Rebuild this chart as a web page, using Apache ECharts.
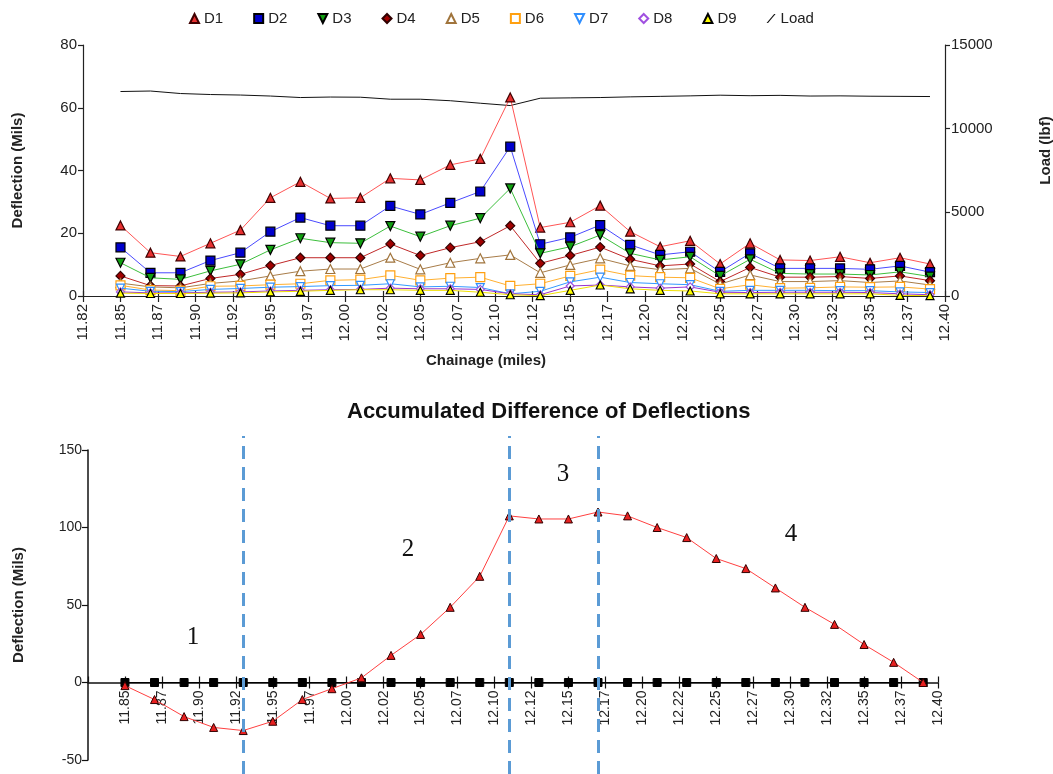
<!DOCTYPE html>
<html>
<head>
<meta charset="utf-8">
<script src="https://cdn.jsdelivr.net/npm/echarts@6/dist/echarts.min.js"></script>
<style>
html,body{margin:0;padding:0;background:#fff;}
#c{width:1053px;height:774px;}
</style>
</head>
<body>
<div id="c"></div>
<script>
// ---------- data ----------
const chainage = [11.85, 11.87, 11.89, 11.91, 11.93, 11.95, 11.97, 11.99, 12.01, 12.03, 12.05, 12.07, 12.09, 12.11,
                  12.13, 12.15, 12.17, 12.19, 12.21, 12.23, 12.25, 12.27, 12.29, 12.31, 12.33, 12.35, 12.37, 12.39];
const d1 = [22.5, 13.8, 12.6, 16.8, 21.0, 31.3, 36.4, 31.1, 31.3, 37.5, 37.0, 41.8, 43.7, 63.3, 21.8, 23.5, 28.8, 20.5, 15.7, 17.6, 10.2, 16.8, 11.5, 11.3, 12.5, 10.6, 12.2, 10.2];
const d2 = [15.5, 7.4, 7.4, 11.3, 13.8, 20.5, 25.0, 22.4, 22.4, 28.7, 26.0, 29.7, 33.3, 47.6, 16.5, 18.7, 22.6, 16.3, 13.1, 14.1, 7.7, 13.6, 8.8, 8.8, 8.8, 8.5, 9.6, 7.6];
const d3 = [10.6, 5.8, 5.3, 8.0, 10.1, 14.7, 18.4, 17.0, 16.8, 22.3, 18.9, 22.4, 24.8, 34.3, 13.6, 15.7, 19.4, 13.6, 11.5, 12.5, 6.4, 11.7, 7.2, 7.0, 7.0, 6.7, 7.7, 6.2];
const d4 = [6.4, 3.3, 3.2, 5.6, 6.9, 9.7, 12.2, 12.2, 12.2, 16.6, 12.9, 15.4, 17.3, 22.4, 10.4, 12.9, 15.6, 11.7, 9.6, 10.2, 4.6, 9.1, 6.0, 6.0, 6.2, 5.6, 6.4, 4.9];
const d5 = [4.1, 2.9, 2.6, 4.0, 4.8, 6.4, 7.9, 8.6, 8.6, 12.2, 8.5, 10.6, 12.0, 13.1, 7.4, 9.9, 12.0, 9.6, 8.4, 8.8, 3.8, 6.7, 4.6, 4.6, 4.9, 4.3, 4.8, 3.5];
const d6 = [3.4, 1.9, 1.7, 3.1, 3.2, 3.6, 3.9, 5.0, 5.2, 6.6, 5.0, 5.7, 6.0, 3.2, 3.9, 6.4, 8.4, 6.5, 6.0, 5.8, 2.3, 3.6, 2.5, 2.6, 2.9, 2.8, 2.9, 2.2];
const d7 = [2.5, 1.5, 1.4, 2.1, 2.4, 2.8, 3.0, 3.3, 3.4, 3.9, 2.9, 3.1, 2.7, 0.7, 1.5, 4.5, 6.0, 4.3, 3.9, 3.6, 1.5, 1.8, 1.8, 1.8, 1.7, 1.7, 1.3, 1.1];
const d8 = [1.3, 1.0, 1.0, 1.2, 1.3, 1.6, 1.8, 2.0, 2.1, 2.5, 2.3, 2.3, 2.1, 0.7, 0.4, 3.2, 3.5, 2.9, 2.5, 2.9, 1.2, 1.1, 1.2, 1.2, 1.2, 1.1, 0.7, 0.4];
const d9 = [0.9, 0.8, 0.8, 0.9, 1.0, 1.3, 1.5, 1.8, 2.0, 2.0, 1.8, 1.8, 1.2, 0.4, 0.1, 1.8, 3.5, 2.3, 1.8, 1.6, 0.7, 0.7, 0.7, 0.7, 0.7, 0.7, 0.2, 0.1];
const load = [12220, 12250, 12100, 12040, 12010, 11950, 11860, 11890, 11880, 11760, 11760, 11670, 11520, 11380,
              11820, 11840, 11860, 11900, 11930, 11960, 12000, 11970, 11990, 11950, 11960, 11940, 11930, 11920];
const accDiff = [-2, -11, -22, -29, -31, -25, -11, -4, 3, 17.5, 31, 48.5, 68.5, 107.5,
                 105.5, 105.5, 110, 107.5, 100, 93.5, 80, 73.5, 61, 48.5, 37.5, 24.5, 13, 0];
const baseline = [0, 0, 0, 0, 0, 0, 0, 0, 0, 0, 0, 0, 0, 0, 0, 0, 0, 0, 0, 0, 0, 0, 0, 0, 0, 0, 0, 0];
const boundaries = [11.93, 12.11, 12.17];
const regionLabels = ['1', '2', '3', '4'];
const seriesNames = ['D1', 'D2', 'D3', 'D4', 'D5', 'D6', 'D7', 'D8', 'D9', 'Load'];
const topTitle = 'Accumulated Difference of Deflections';

// ---------- helpers ----------
const FONT = 'Liberation Sans, Arial, sans-serif';
const pair = arr => arr.map((v, i) => [chainage[i], v]);
const fmtX = v => (Math.floor(v * 100 + 1e-6) / 100).toFixed(2);
const fmtY = v => String(v);
const DOWN = 'path://M0,0L10,0L5,10Z';

const styles = [
  {sym: 'triangle', rot: 0, fill: '#e83030', border: '#400000', line: '#ff5555', size: 9},
  {sym: 'rect', rot: 0, fill: '#0000cc', border: '#000000', line: '#4a4aff', size: 9},
  {sym: 'triangle', rot: 180, fill: '#10a010', border: '#000000', line: '#3cbf3c', size: 9},
  {sym: 'diamond', rot: 0, fill: '#a00000', border: '#300000', line: '#c02828', size: 9},
  {sym: 'triangle', rot: 0, fill: '#ffffff', border: '#a0743c', line: '#a87c48', size: 9},
  {sym: 'rect', rot: 0, fill: '#ffffff', border: '#ffa010', line: '#ffb030', size: 9},
  {sym: 'triangle', rot: 180, fill: '#ffffff', border: '#2f8fff', line: '#3399ff', size: 8},
  {sym: 'diamond', rot: 0, fill: '#ffffff', border: '#a050e0', line: '#9933cc', size: 8},
  {sym: 'triangle', rot: 0, fill: '#ffff00', border: '#000000', line: '#f0e000', size: 8}
];
const dataSets = [d1, d2, d3, d4, d5, d6, d7, d8, d9];
const legendIcons = ['triangle', 'rect', DOWN, 'diamond', 'triangle', 'rect', DOWN, 'diamond', 'triangle',
                     'path://M0,10L1.6,10L10,0L8.4,0Z'];

const series = dataSets.map((arr, k) => ({
  name: seriesNames[k], type: 'line', xAxisIndex: 0, yAxisIndex: 0,
  data: pair(arr), symbol: styles[k].sym, symbolRotate: styles[k].rot, symbolSize: styles[k].size,
  lineStyle: {color: styles[k].line, width: 1},
  itemStyle: {color: styles[k].fill, borderColor: styles[k].border, borderWidth: 1.2},
  emphasis: {disabled: true}, animation: false, z: 3 + k
}));
series.push({
  name: 'Load', type: 'line', xAxisIndex: 0, yAxisIndex: 1, data: pair(load), symbol: 'none',
  lineStyle: {color: '#111', width: 1}, itemStyle: {color: '#111'}, animation: false, z: 2
});
// bottom chart
series.push({
  name: 'base', type: 'line', xAxisIndex: 2, yAxisIndex: 2, data: pair(baseline),
  symbol: 'rect', symbolSize: 8, lineStyle: {color: '#000', width: 1},
  itemStyle: {color: '#000', borderColor: '#000'}, animation: false, z: 3
});
series.push({
  name: 'acc', type: 'line', xAxisIndex: 2, yAxisIndex: 2, data: pair(accDiff),
  symbol: 'triangle', symbolSize: 8, lineStyle: {color: '#ff4040', width: 1},
  itemStyle: {color: '#e82020', borderColor: '#300000', borderWidth: 1}, animation: false, z: 4
});
series.push({
  name: 'bounds', type: 'line', xAxisIndex: 4, yAxisIndex: 3, data: [], symbol: 'none', animation: false,
  markLine: {
    silent: true, symbol: ['none', 'none'], label: {show: false},
    lineStyle: {color: '#5b9bd5', width: 3, type: [13, 8]},
    data: boundaries.map(b => ({xAxis: b}))
  }, z: 6
});

// bottom grid geometry and the offset that puts its x axis on value 0
const BOT = {top: 450, height: 310, min: -50, max: 150};
const zeroOffset = -BOT.height * (0 - BOT.min) / (BOT.max - BOT.min);

const axisCommon = {
  axisLine: {lineStyle: {color: '#222', width: 1.2}},
  axisTick: {lineStyle: {color: '#222', width: 1.2}},
  splitLine: {show: false}
};

const option = {
  backgroundColor: '#ffffff',
  animation: false,
  textStyle: {fontFamily: FONT},
  title: {
    text: topTitle, left: 347, top: 401, padding: 0,
    textStyle: {fontSize: 22, fontWeight: 'bold', color: '#111', fontFamily: FONT}
  },
  legend: {
    data: seriesNames.map((n, i) => ({name: n, icon: legendIcons[i]})),
    left: 184, top: 6, itemWidth: 9, itemHeight: 9, itemGap: 30,
    textStyle: {fontSize: 15, color: '#222', fontFamily: FONT},
    selectedMode: false
  },
  grid: [
    {left: 83, right: 108, top: 45, height: 251, containLabel: false, outerBoundsMode: 'none'},
    {left: 88, right: 115, top: BOT.top, height: BOT.height, containLabel: false, outerBoundsMode: 'none'},
    {left: 88, right: 115, top: 436, height: 338, containLabel: false, outerBoundsMode: 'none'}
  ],
  xAxis: [
    Object.assign({}, axisCommon, {
      gridIndex: 0, type: 'value', min: 11.825, max: 12.40, interval: 0.025, position: 'bottom',
      axisTick: {length: 6, lineStyle: {color: '#222', width: 1.2}},
      axisLabel: {rotate: 90, formatter: fmtX, fontSize: 15, color: '#222', margin: 8, fontFamily: FONT},
      name: 'Chainage (miles)', nameLocation: 'middle', nameGap: 57,
      nameTextStyle: {fontSize: 15, fontWeight: 'bold', color: '#222', padding: [0, 56, 0, 0], fontFamily: FONT}
    }),
    {
      gridIndex: 0, type: 'value', min: 11.825, max: 12.40, interval: 0.025, position: 'bottom',
      axisLine: {show: false, onZero: false}, axisLabel: {show: false}, splitLine: {show: false},
      axisTick: {inside: true, length: 5, lineStyle: {color: '#222', width: 1.2}}
    },
    Object.assign({}, axisCommon, {
      gridIndex: 1, type: 'value', min: 11.825, max: 12.40, interval: 0.025, position: 'bottom',
      offset: zeroOffset,
      axisLine: {onZero: false, lineStyle: {color: '#111', width: 1.5}},
      axisTick: {length: 6, lineStyle: {color: '#111', width: 1.2}},
      axisLabel: {rotate: 90, formatter: fmtX, fontSize: 14, color: '#222', margin: 8, showMinLabel: false, fontFamily: FONT}
    }),
    {
      gridIndex: 1, type: 'value', min: 11.825, max: 12.40, interval: 0.025, position: 'bottom',
      offset: zeroOffset,
      axisLine: {show: false, onZero: false}, axisLabel: {show: false}, splitLine: {show: false},
      axisTick: {inside: true, length: 6, lineStyle: {color: '#111', width: 1.2}}
    },
    {gridIndex: 2, type: 'value', min: 11.825, max: 12.40, show: false}
  ],
  yAxis: [
    Object.assign({}, axisCommon, {
      gridIndex: 0, type: 'value', min: 0, max: 80, interval: 20, position: 'left',
      axisTick: {length: 5, lineStyle: {color: '#222', width: 1.2}},
      axisLabel: {fontSize: 15, color: '#222', margin: 6, formatter: fmtY, fontFamily: FONT},
      name: 'Deflection (Mils)', nameLocation: 'middle', nameGap: 58, nameRotate: 90,
      nameTextStyle: {fontSize: 15, fontWeight: 'bold', color: '#222', fontFamily: FONT}
    }),
    Object.assign({}, axisCommon, {
      gridIndex: 0, type: 'value', min: 0, max: 15000, interval: 5000, position: 'right',
      axisTick: {length: 5, lineStyle: {color: '#222', width: 1.2}},
      axisLabel: {fontSize: 15, color: '#222', margin: 6, formatter: fmtY, fontFamily: FONT},
      name: 'Load (lbf)', nameLocation: 'middle', nameGap: 93, nameRotate: 90,
      nameTextStyle: {fontSize: 15, fontWeight: 'bold', color: '#222', padding: [0, 0, 0, 40], fontFamily: FONT}
    }),
    Object.assign({}, axisCommon, {
      gridIndex: 1, type: 'value', min: BOT.min, max: BOT.max, interval: 50,
      axisLine: {onZero: false, lineStyle: {color: '#111', width: 1.5}},
      axisTick: {length: 6, lineStyle: {color: '#111', width: 1.2}},
      axisLabel: {fontSize: 14, color: '#222', margin: 6, formatter: fmtY, fontFamily: FONT},
      name: 'Deflection (Mils)', nameLocation: 'middle', nameGap: 62, nameRotate: 90,
      nameTextStyle: {fontSize: 15, fontWeight: 'bold', color: '#222', fontFamily: FONT}
    }),
    {gridIndex: 2, type: 'value', min: 0, max: 1, show: false}
  ],
  graphic: [
    {pos: [193, 637]}, {pos: [408, 549]}, {pos: [563, 474]}, {pos: [791, 534]}
  ].map((g, i) => ({
    type: 'text', x: g.pos[0], y: g.pos[1], z: 10,
    style: {text: regionLabels[i], font: '25px "Liberation Serif", "Times New Roman", serif',
            fill: '#111', textAlign: 'center', textVerticalAlign: 'middle'}
  })),
  series: series
};

const chart = echarts.init(document.getElementById('c'), null, {renderer: 'canvas'});
chart.setOption(option);
</script>
</body>
</html>
